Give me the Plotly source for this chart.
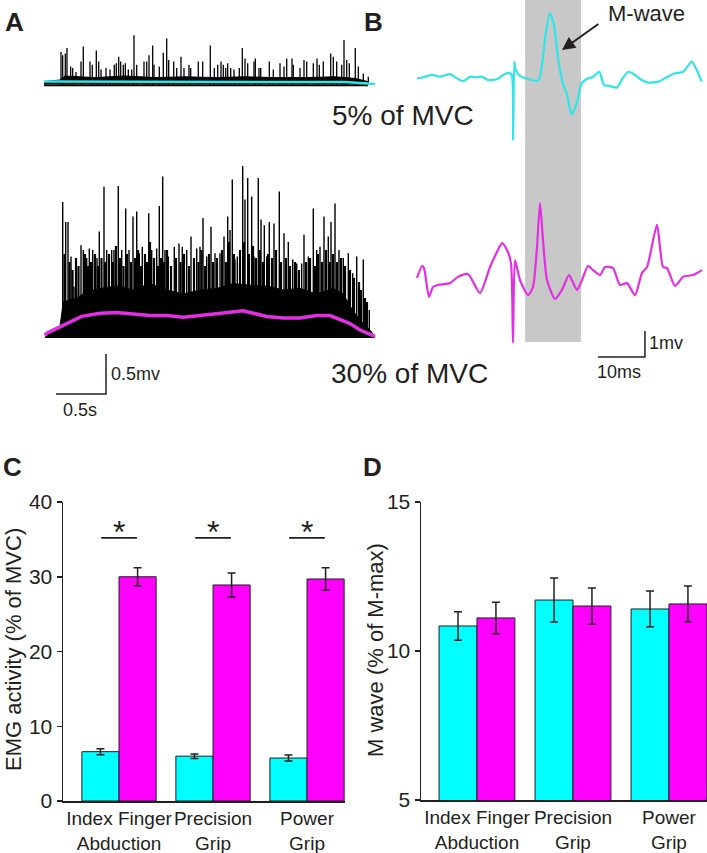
import plotly.graph_objects as go

W, H = 707, 853          # picture size (body margin removed by post_script below)
FONT = "Liberation Sans, Arial, Helvetica, sans-serif"
TXT = "#231F20"
CYAN_BAR = "#00FFFF"
MAG_BAR = "#FF00FF"
CYAN_TR = "#2EE6E8"
MAG_TR = "#E42EE4"

# ---------------- Panel A : raw EMG (s, mV) ----------------
# 5% MVC trace: spike times (s) and peak amplitudes (mV)
A5_SPIKE_T = [0.16, 0.177, 0.203, 0.22, 0.257, 0.277, 0.31, 0.36, 0.383, 0.45, 0.473, 0.513, 0.537,
              0.56, 0.61, 0.65, 0.693, 0.713, 0.737, 0.757, 0.783, 0.803, 0.833, 0.867, 0.89, 0.917,
              0.99, 1.017, 1.04, 1.077, 1.09, 1.143, 1.183, 1.217, 1.237, 1.287, 1.317, 1.36, 1.39,
              1.44, 1.457, 1.533, 1.577, 1.653, 1.693, 1.727, 1.76, 1.783, 1.807, 1.827, 1.857, 1.89,
              1.943, 1.973, 2.0, 2.027, 2.09, 2.103, 2.14, 2.157, 2.243, 2.283, 2.35, 2.39, 2.417,
              2.47, 2.483, 2.55, 2.59, 2.617, 2.683, 2.72, 2.743, 2.783, 2.857, 2.883, 2.917, 2.967,
              2.99, 3.017, 3.043, 3.103, 3.133, 3.183, 3.233]
A5_SPIKE_MV = [0.40, 0.36, 0.38, 0.45, 0.22, 0.20, 0.15, 0.28, 0.47, 0.28, 0.24, 0.42, 0.28,
               0.18, 0.20, 0.18, 0.24, 0.26, 0.34, 0.28, 0.24, 0.26, 0.18, 0.18, 0.61, 0.24,
               0.28, 0.28, 0.36, 0.48, 0.24, 0.22, 0.39, 0.57, 0.30, 0.28, 0.20, 0.34, 0.20,
               0.24, 0.20, 0.28, 0.28, 0.48, 0.20, 0.24, 0.28, 0.24, 0.20, 0.26, 0.20, 0.18,
               0.20, 0.45, 0.32, 0.26, 0.28, 0.32, 0.20, 0.20, 0.28, 0.18, 0.26, 0.22, 0.32,
               0.32, 0.24, 0.20, 0.30, 0.28, 0.26, 0.32, 0.24, 0.28, 0.38, 0.34, 0.28, 0.24,
               0.55, 0.30, 0.26, 0.45, 0.22, 0.13, 0.09]
A5_BAND_T = [-0.01, 0.15, 0.2, 0.5, 0.8, 1.1, 1.4, 1.7, 2.0, 2.3, 2.6, 2.9, 3.1, 3.23]
A5_BAND_MV = [0.03, 0.05, 0.10, 0.08, 0.10, 0.08, 0.09, 0.08, 0.09, 0.08, 0.08, 0.09, 0.07, 0.03]
A5_RMS_T = [-0.01, 0.5, 1.0, 1.5, 2.0, 2.5, 3.0, 3.2, 3.3]
A5_RMS_MV = [0.03, 0.03, 0.025, 0.03, 0.03, 0.03, 0.025, 0.01, 0.0]

# 30% MVC trace: tall spikes
A30_SPIKE_T = [0.177, 0.207, 0.23, 0.26, 0.29, 0.36, 0.383, 0.417, 0.443, 0.477, 0.52, 0.543, 0.59,
               0.617, 0.667, 0.69, 0.733, 0.767, 0.807, 0.84, 0.88, 0.917, 0.943, 0.973, 1.037,
               1.067, 1.117, 1.143, 1.177, 1.20, 1.233, 1.293, 1.34, 1.373, 1.417, 1.46, 1.517,
               1.55, 1.58, 1.617, 1.66, 1.70, 1.75, 1.79, 1.827, 1.85, 1.873, 1.90, 1.923, 1.977,
               2.00, 2.027, 2.067, 2.09, 2.133, 2.16, 2.193, 2.217, 2.243, 2.29, 2.343, 2.39,
               2.433, 2.477, 2.517, 2.567, 2.59, 2.633, 2.683, 2.717, 2.75, 2.79, 2.833, 2.86,
               2.90, 2.94, 2.983, 3.033, 3.077, 3.117, 3.183, 3.243]
A30_SPIKE_MV = [1.70, 1.45, 1.45, 1.02, 0.64, 1.16, 1.10, 1.00, 1.12, 1.10, 1.00, 1.33, 1.89,
                1.10, 1.10, 1.10, 1.90, 1.10, 1.62, 1.10, 1.52, 1.58, 1.06, 1.14, 1.56,
                1.10, 1.12, 1.65, 2.02, 1.10, 1.02, 1.14, 1.18, 1.14, 1.10, 1.27, 1.12,
                1.14, 1.50, 1.02, 1.39, 1.06, 1.06, 1.27, 1.52, 1.35, 1.98, 0.98, 1.02, 2.15,
                1.73, 2.00, 1.77, 1.02, 2.00, 1.48, 1.41, 1.02, 1.45, 1.43, 1.83, 1.31,
                1.20, 0.98, 0.93, 0.93, 1.29, 1.02, 1.62, 1.10, 1.14, 1.52, 1.27, 1.45,
                1.68, 1.10, 1.00, 1.06, 0.81, 1.02, 0.98, 0.35]
# 30% MVC trace: medium spikes filling the dense part
A30_MID_T = [0.195, 0.245, 0.275, 0.31, 0.335, 0.40, 0.43, 0.46, 0.50, 0.53, 0.565, 0.60, 0.64,
             0.68, 0.71, 0.75, 0.785, 0.82, 0.86, 0.90, 0.93, 0.96, 1.00, 1.02, 1.05, 1.09, 1.13,
             1.16, 1.19, 1.22, 1.26, 1.31, 1.355, 1.39, 1.44, 1.49, 1.535, 1.565, 1.60, 1.64,
             1.68, 1.72, 1.77, 1.81, 1.84, 1.89, 1.95, 1.99, 2.04, 2.08, 2.11, 2.15, 2.18, 2.23,
             2.27, 2.31, 2.36, 2.41, 2.45, 2.50, 2.54, 2.61, 2.65, 2.70, 2.73, 2.77, 2.81, 2.85,
             2.88, 2.92, 2.96, 3.00, 3.05, 3.09, 3.14, 3.16, 3.20, 3.22]
A30_MID_MV = [1.05, 0.95, 0.85, 1.0, 0.9, 1.05, 0.9, 0.95, 1.05, 0.9, 1.0, 0.95, 1.05,
              0.95, 1.15, 1.0, 0.9, 1.05, 0.95, 1.0, 1.1, 0.9, 1.05, 0.95, 1.2, 1.0, 0.9,
              1.0, 0.95, 1.1, 0.9, 1.0, 0.95, 1.05, 0.9, 1.0, 0.95, 1.1, 0.9, 1.05,
              0.95, 1.0, 1.1, 0.95, 1.2, 1.05, 1.1, 1.2, 1.05, 1.15, 1.0, 1.1, 0.95, 1.05,
              1.0, 1.1, 0.95, 1.0, 0.9, 0.95, 0.85, 0.95, 1.0, 0.9, 1.05, 0.95, 1.1, 0.95,
              1.05, 0.95, 1.0, 0.9, 0.85, 0.75, 0.7, 0.6, 0.5, 0.45]
A30_BAND_T = [0.0, 0.017, 0.15, 0.183, 0.317, 0.417, 0.55, 0.717, 0.883, 1.05, 1.217, 1.383, 1.55,
              1.717, 1.883, 2.05, 2.217, 2.383, 2.55, 2.717, 2.883, 2.983, 3.05, 3.15, 3.217, 3.30]
A30_BAND_MV = [0.0, 0.04, 0.15, 0.45, 0.50, 0.58, 0.62, 0.65, 0.60, 0.68, 0.60, 0.55, 0.60,
               0.62, 0.68, 0.66, 0.65, 0.60, 0.62, 0.55, 0.62, 0.55, 0.40, 0.22, 0.15, 0.02]
A30_RMS_T = [0.0, 0.017, 0.15, 0.367, 0.55, 0.717, 0.883, 1.05, 1.217, 1.383, 1.55, 1.717, 1.883,
             1.983, 2.083, 2.217, 2.383, 2.55, 2.717, 2.85, 3.05, 3.15, 3.30]
A30_RMS_MV = [0.03, 0.06, 0.14, 0.27, 0.31, 0.32, 0.30, 0.28, 0.28, 0.26, 0.28, 0.30, 0.32,
              0.34, 0.31, 0.27, 0.25, 0.25, 0.28, 0.28, 0.18, 0.10, 0.02]

SCALE_A_S, SCALE_A_MV = 0.5, 0.5

# ---------------- Panel B : M-wave traces (ms, mV) ----------------
B5_T = [0.0, 1.34, 3.13, 4.89, 7.02, 8.45, 9.85, 11.28, 12.70, 13.77, 15.17, 16.96, 18.36, 19.43,
        20.15, 20.45, 20.70, 21.0, 21.91, 23.68, 25.81, 26.53, 27.38, 28.30, 29.15, 30.06, 31.13,
        31.85, 32.91, 33.98, 35.04, 36.11, 37.51, 38.79, 39.79, 41.06, 42.49, 43.77, 44.96, 46.38,
        47.81, 49.21, 51.34, 53.13, 54.89, 56.66, 58.45, 59.51, 60.57]
B5_MV = [-0.01, 0.03, 0.12, 0.05, 0.15, -0.01, -0.12, 0.05, 0.03, 0.05, -0.08, -0.05, 0.12, 0.20,
         0.12, -2.38, 0.63, 0.31, 0.08, -0.04, -0.10, 0.43, 1.72, 2.49, 2.04, 0.69, -0.27,
         -0.59, -1.40, -0.97, -0.20, -0.04, 0.05, 0.24, -0.27, -0.31, -0.37, -0.01, 0.24, 0.12,
         -0.08, -0.18, -0.14, 0.03, 0.18, 0.24, 0.63, 0.31, -0.14]
B30_T = [0.0, 1.06, 1.49, 2.55, 3.40, 4.47, 7.02, 8.72, 10.85, 13.40, 15.53, 16.60, 18.09, 19.15,
         20.0, 20.43, 20.85, 21.91, 23.62, 24.68, 25.53, 26.17, 26.81, 27.66, 29.36, 30.85, 32.34,
         34.04, 35.11, 36.38, 37.45, 38.94, 40.0, 41.70, 43.19, 44.68, 46.38, 47.87, 48.94, 51.06,
         52.34, 53.19, 54.89, 56.60, 58.72, 60.64]
B30_MV = [0.08, 0.54, 0.46, -0.65, -0.27, -0.19, -0.12, 0.12, 0.23, -0.50, 0.50, 0.92, 1.42, 1.15,
          0.65, -2.42, 0.77, 0.0, -0.58, -0.27, 1.27, 2.96, 1.54, 0.0, -0.73, -0.38, 0.19,
          -0.38, 0.0, 0.54, 0.38, 0.19, 0.50, 0.46, -0.19, -0.12, -0.58, 0.27, 0.50, 2.12,
          0.50, 0.46, -0.23, 0.12, 0.19, 0.38]
MWAVE_WINDOW_MS = (23.0, 34.9)
SCALE_B_MS, SCALE_B_MV = 10, 1

# ---------------- Panel C / D : bar data ----------------
CATEGORIES = ["Index Finger<br>Abduction", "Precision<br>Grip", "Power<br>Grip"]
EMG_5 = [6.6, 6.0, 5.75]
EMG_5_ERR = [0.4, 0.3, 0.4]
EMG_30 = [30.0, 28.9, 29.7]
EMG_30_ERR = [1.2, 1.6, 1.5]
SIG_LEVEL = 35.2
MW_5 = [10.84, 11.71, 11.41]
MW_5_ERR = [0.48, 0.74, 0.60]
MW_30 = [11.11, 11.51, 11.58]
MW_30_ERR = [0.53, 0.60, 0.60]
C_TICKS = [0, 10, 20, 30, 40]
D_TICKS = [5, 10, 15]


def px_x(p):
    return p / W


def px_y(p):
    return 1 - p / H


def dom_x(p0, p1):
    return [px_x(p0), px_x(p1)]


def dom_y(p0, p1):
    return [px_y(p1), px_y(p0)]


def spikes(ts, vs, base):
    xs, ys = [], []
    for t, v in zip(ts, vs):
        xs += [t, t, None]
        ys += [base, v, None]
    return xs, ys


fig = go.Figure()

# ---- A top (5%)
fig.add_trace(go.Scatter(x=A5_BAND_T, y=A5_BAND_MV, fill="tozeroy", mode="lines",
                         line=dict(color="black", width=1), fillcolor="black",
                         xaxis="x", yaxis="y", hoverinfo="skip"))
sx, sy = spikes(A5_SPIKE_T, A5_SPIKE_MV, -0.01)
fig.add_trace(go.Scatter(x=sx, y=sy, mode="lines", line=dict(color="black", width=1.3),
                         xaxis="x", yaxis="y", hoverinfo="skip"))
fig.add_trace(go.Scatter(x=[A5_BAND_T[0], A5_BAND_T[-1]], y=[-0.015, -0.015], mode="lines",
                         line=dict(color="black", width=2), xaxis="x", yaxis="y"))
fig.add_trace(go.Scatter(x=A5_RMS_T, y=A5_RMS_MV, mode="lines",
                         line=dict(color=CYAN_TR, width=2.5), xaxis="x", yaxis="y"))

# ---- A bottom (30%)
fig.add_trace(go.Scatter(x=A30_BAND_T, y=A30_BAND_MV, fill="tozeroy", mode="lines",
                         line=dict(color="black", width=1), fillcolor="black",
                         xaxis="x2", yaxis="y2", hoverinfo="skip"))
sx, sy = spikes(A30_MID_T, A30_MID_MV, 0.0)
fig.add_trace(go.Scatter(x=sx, y=sy, mode="lines", line=dict(color="black", width=2.2),
                         xaxis="x2", yaxis="y2", hoverinfo="skip"))
sx, sy = spikes(A30_SPIKE_T, A30_SPIKE_MV, 0.0)
fig.add_trace(go.Scatter(x=sx, y=sy, mode="lines", line=dict(color="black", width=1.4),
                         xaxis="x2", yaxis="y2", hoverinfo="skip"))
fig.add_trace(go.Scatter(x=A30_RMS_T, y=A30_RMS_MV, mode="lines",
                         line=dict(color=MAG_TR, width=3.5), xaxis="x2", yaxis="y2"))
# scale bar A
sb_t1, sb_v0 = 0.61, -0.70
fig.add_trace(go.Scatter(x=[sb_t1 - SCALE_A_S, sb_t1, sb_t1], y=[sb_v0, sb_v0, sb_v0 + SCALE_A_MV],
                         mode="lines", line=dict(color=TXT, width=1.5), xaxis="x2", yaxis="y2"))

# ---- B traces
fig.add_trace(go.Scatter(x=B5_T, y=B5_MV, mode="lines", line=dict(color=CYAN_TR, width=2.2,
                         shape="spline", smoothing=0.6), xaxis="x3", yaxis="y3"))
fig.add_trace(go.Scatter(x=B30_T, y=B30_MV, mode="lines", line=dict(color=MAG_TR, width=2.2,
                         shape="spline", smoothing=0.6), xaxis="x4", yaxis="y4"))
sb_x1, sb_y0 = 48.5, -2.96
fig.add_trace(go.Scatter(x=[sb_x1 - SCALE_B_MS, sb_x1, sb_x1], y=[sb_y0, sb_y0, sb_y0 + SCALE_B_MV],
                         mode="lines", line=dict(color=TXT, width=1.5), xaxis="x4", yaxis="y4"))

# ---- C bars
xs = list(range(len(CATEGORIES)))
bar_line = dict(color=TXT, width=1)
err = dict(type="data", thickness=1.5, width=4, color=TXT)
fig.add_trace(go.Bar(x=xs, y=EMG_5, error_y=dict(array=EMG_5_ERR, **err), marker=dict(color=CYAN_BAR, line=bar_line),
                     xaxis="x5", yaxis="y5", offsetgroup="a"))
fig.add_trace(go.Bar(x=xs, y=EMG_30, error_y=dict(array=EMG_30_ERR, **err), marker=dict(color=MAG_BAR, line=bar_line),
                     xaxis="x5", yaxis="y5", offsetgroup="b"))
for i in xs:
    fig.add_trace(go.Scatter(x=[i - 0.19, i + 0.19], y=[SIG_LEVEL, SIG_LEVEL], mode="lines",
                             line=dict(color=TXT, width=1.6), xaxis="x5", yaxis="y5"))
    fig.add_annotation(x=i, y=SIG_LEVEL, xref="x5", yref="y5", text="*", showarrow=False,
                       xanchor="center", yanchor="bottom", yshift=-14,
                       font=dict(size=32, color=TXT, family=FONT))

# ---- D bars
fig.add_trace(go.Bar(x=xs, y=MW_5, error_y=dict(array=MW_5_ERR, **err),
                     marker=dict(color=CYAN_BAR, line=bar_line), xaxis="x6", yaxis="y6", offsetgroup="a"))
fig.add_trace(go.Bar(x=xs, y=MW_30, error_y=dict(array=MW_30_ERR, **err),
                     marker=dict(color=MAG_BAR, line=bar_line), xaxis="x6", yaxis="y6", offsetgroup="b"))

hidden = dict(visible=False, showgrid=False, zeroline=False, fixedrange=True, automargin=False)
axis_font = dict(family=FONT, size=21, color=TXT)
cat_font = dict(family=FONT, size=19, color=TXT)
common = dict(showgrid=False, zeroline=False, showline=True, linecolor=TXT, linewidth=1.5,
              automargin=False)

fig.update_layout(
    template="none",
    width=W, height=H, autosize=False, margin=dict(l=0, r=0, t=0, b=0, pad=0),
    paper_bgcolor="white", plot_bgcolor="rgba(0,0,0,0)",
    showlegend=False, barmode="group", bargap=0.21, bargroupgap=0,
    hovermode=False,
    font=dict(family=FONT, color=TXT),
    xaxis=dict(domain=dom_x(30, 390), range=[-0.15, 3.45], anchor="y", **hidden),
    yaxis=dict(domain=dom_y(20, 100), range=[-0.2, 0.8], anchor="x", **hidden),
    xaxis2=dict(domain=dom_x(30, 390), range=[-0.15, 3.45], anchor="y2", **hidden),
    yaxis2=dict(domain=dom_y(150, 420), range=[-1.025, 2.35], anchor="x2", **hidden),
    xaxis3=dict(domain=dom_x(400, 707), range=[-3.617, 61.70], anchor="y3", **hidden),
    yaxis3=dict(domain=dom_y(0, 150), range=[-2.77, 3.0], anchor="x3", **hidden),
    xaxis4=dict(domain=dom_x(400, 707), range=[-3.617, 61.70], anchor="y4", **hidden),
    yaxis4=dict(domain=dom_y(180, 400), range=[-4.615, 3.846], anchor="x4", **hidden),
    xaxis5=dict(domain=dom_x(63, 345), range=[-0.596, 2.404], anchor="y5", ticks="",
                tickangle=0, tickvals=xs, ticktext=CATEGORIES, tickfont=cat_font, **common),
    yaxis5=dict(domain=dom_y(502, 801), range=[0, 40], anchor="x5", ticks="outside", ticklen=5,
                tickwidth=1.5, tickcolor=TXT, tickvals=C_TICKS, tickfont=axis_font, **common),
    xaxis6=dict(domain=dom_x(421, 707), range=[-0.583, 2.396], anchor="y6", ticks="",
                tickangle=0, tickvals=xs, ticktext=CATEGORIES, tickfont=cat_font, **common),
    yaxis6=dict(domain=dom_y(502, 800), range=[5, 15], anchor="x6", ticks="outside", ticklen=5,
                tickwidth=1.5, tickcolor=TXT, tickvals=D_TICKS, tickfont=axis_font, **common),
)

# M-wave window shading (from the top edge of the picture down to below the 30% trace)
fig.add_shape(type="rect", xref="x3", yref="paper", x0=MWAVE_WINDOW_MS[0], x1=MWAVE_WINDOW_MS[1],
              y0=px_y(342), y1=1.0, fillcolor="#C8C8C8", line=dict(width=0), layer="below")

# M-wave arrow + label
fig.add_annotation(x=30.85, y=1.08, xref="x3", yref="y3", ax=38.9, ay=2.12, axref="x3", ayref="y3",
                   text="", showarrow=True, arrowhead=2, arrowsize=1.3, arrowwidth=2, arrowcolor=TXT)


def label(text, x, y, xref, yref, size, xanchor="center", angle=0):
    fig.add_annotation(x=x, y=y, xref=xref, yref=yref, text=text, showarrow=False,
                       xanchor=xanchor, yanchor="middle", textangle=angle,
                       font=dict(size=size, color=TXT, family=FONT))


label("M-wave", 48.9, 2.5, "x3", "y3", 22)
# scale bar labels
label("0.5mv", sb_t1 + 0.03, sb_v0 + SCALE_A_MV / 2, "x2", "y2", 18, xanchor="left")
label("0.5s", sb_t1 - SCALE_A_S / 2 - 0.01, sb_v0 - 0.2, "x2", "y2", 18)
label("1mv", sb_x1 + 0.5, sb_y0 + SCALE_B_MV / 2 + 0.04, "x4", "y4", 18, xanchor="left")
label("10ms", sb_x1 - SCALE_B_MS / 2 - 0.6, sb_y0 - 0.58, "x4", "y4", 18)
# condition labels
label("5% of MVC", px_x(403), px_y(115), "paper", "paper", 28)
label("30% of MVC", px_x(409), px_y(373), "paper", "paper", 28)
# axis titles
label("EMG activity (% of MVC)", px_x(13), px_y(650), "paper", "paper", 22, angle=-90)
label("M wave (% of M-max)", px_x(375), px_y(650), "paper", "paper", 22, angle=-90)
# panel letters
for letter, px, py in [("A", 14, 22), ("B", 373, 22), ("C", 12, 467), ("D", 372, 467)]:
    label(f"<b>{letter}</b>", px_x(px), px_y(py), "paper", "paper", 26)

fig.write_html("out.html", config={"displayModeBar": False, "staticPlot": True},
               post_script="document.body.style.margin='0px';document.body.style.overflow='hidden';")
